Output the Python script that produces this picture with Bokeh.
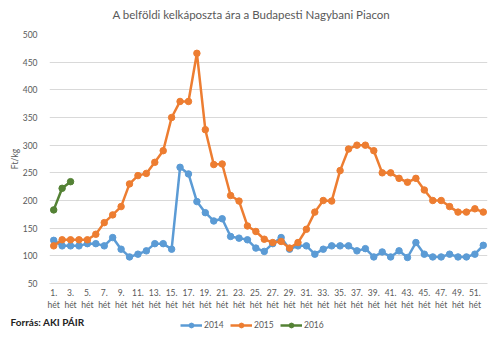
import numpy as np
from bokeh.plotting import figure
from bokeh.layouts import column
from bokeh.models import Range1d, FixedTicker, Legend, LegendItem, Label
from bokeh.embed import file_html
from bokeh.resources import INLINE

weeks = list(range(1, 53))
tick_weeks = list(range(1, 52, 2))
tick_labels = [f"{w}.\nhét" for w in tick_weeks]

price_2014 = [128, 118, 118, 118, 122, 122, 118, 133, 112, 98,
              103, 109, 122, 122, 112, 260, 248, 198, 178, 163,
              167, 135, 132, 129, 114, 108, 122, 133, 112, 118,
              118, 103, 112, 118, 118, 118, 109, 113, 98, 107,
              98, 109, 97, 124, 103, 98, 98, 103, 98, 98,
              103, 119]
price_2015 = [118, 129, 129, 129, 129, 139, 160, 174, 189, 230,
              245, 249, 269, 290, 350, 379, 379, 466, 328, 265,
              266, 209, 199, 154, 144, 130, 124, 126, 114, 124,
              148, 179, 200, 199, 254, 293, 300, 300, 290, 250,
              250, 240, 233, 240, 219, 200, 200, 189, 179, 179,
              185, 179]
weeks_2016 = [1, 2, 3]
price_2016 = [183, 222, 234]

series = [("2014", weeks, price_2014, "#5B9BD5"),
          ("2015", weeks, price_2015, "#ED7D31"),
          ("2016", weeks_2016, price_2016, "#548235")]

FONT = "Lato"
GRAY = "#595959"


def strip(height):
    s = figure(width=500, height=height, output_backend="svg", toolbar_location=None,
               x_range=Range1d(0, 500), y_range=Range1d(0, height), frame_align=False,
               min_border=0, min_border_left=0, min_border_right=0,
               min_border_top=0, min_border_bottom=0)
    s.axis.visible = False
    s.grid.visible = False
    s.outline_line_color = None
    s.border_fill_color = "white"
    return s


# header strip with the title
hdr = strip(28)
hdr.add_layout(Label(x=112, y=14, text="A belföldi kelkáposzta ára a Budapesti Nagybani Piacon",
                     text_font=FONT, text_font_size="11.5px", text_color=GRAY,
                     text_align="left", text_baseline="middle"))

p = figure(width=500, height=288, output_backend="svg", toolbar_location=None,
           x_range=Range1d(0.5, 52.5), y_range=Range1d(50, 500),
           min_border_left=49, min_border_right=13, min_border_top=6,
           min_border_bottom=33)
p.outline_line_color = None
p.background_fill_color = "white"
p.border_fill_color = "white"

p.xgrid.grid_line_color = None
p.ygrid.grid_line_color = "#d9d9d9"
p.yaxis.ticker = FixedTicker(ticks=[50, 100, 150, 200, 250, 300, 350, 400, 450, 500])
p.yaxis.axis_line_color = None
p.yaxis.major_tick_line_color = None
p.yaxis.minor_tick_line_color = None
p.yaxis.major_label_text_font = FONT
p.yaxis.major_label_text_font_size = "8.5px"
p.yaxis.major_label_text_color = GRAY
p.yaxis.major_label_standoff = 6
p.yaxis.axis_label = "Ft/kg"
p.yaxis.axis_label_text_font = FONT
p.yaxis.axis_label_text_font_size = "8.5px"
p.yaxis.axis_label_text_font_style = "normal"
p.yaxis.axis_label_text_color = GRAY
p.yaxis.axis_label_standoff = 0

p.xaxis.ticker = FixedTicker(ticks=tick_weeks)
p.xaxis.major_label_overrides = dict(zip(tick_weeks, tick_labels))
p.xaxis.axis_line_color = "#d9d9d9"
p.xaxis.major_tick_line_color = None
p.xaxis.minor_tick_line_color = None
p.xaxis.major_label_text_font = FONT
p.xaxis.major_label_text_font_size = "8.5px"
p.xaxis.major_label_text_color = GRAY
p.xaxis.major_label_standoff = -2

for name, xs, ys, col in series:
    p.line(xs, ys, line_color=col, line_width=2.5)
    p.scatter(xs, ys, marker="circle", size=6.5, fill_color=col, line_color=col)

# footer strip: source note and legend
f = strip(25)

items = []
for name, xs, ys, col in series:
    r1 = f.line([np.nan], [np.nan], line_color=col, line_width=2.5)
    r2 = f.scatter([np.nan], [np.nan], marker="circle", size=6.5, fill_color=col, line_color=col)
    items.append(LegendItem(label=name, renderers=[r1, r2]))

legend = Legend(items=items, orientation="horizontal", location=(180, 10),
                glyph_width=22, glyph_height=12, spacing=6, padding=0, margin=0,
                label_standoff=2, label_text_font=FONT, label_text_font_size="8.5px",
                label_text_color=GRAY, border_line_color=None, background_fill_alpha=0)
f.add_layout(legend, "center")

f.add_layout(Label(x=10, y=20, text="Forrás: AKI PÁIR", text_font=FONT,
                   text_font_size="10px", text_font_style="bold", text_color="#222222",
                   text_align="left", text_baseline="middle"))

open("out.html", "w").write(file_html(column(hdr, p, f, spacing=0), INLINE))
